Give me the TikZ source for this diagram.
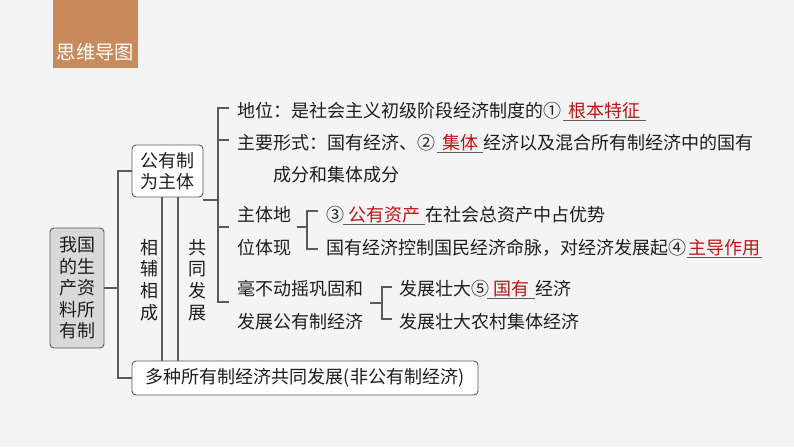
\documentclass[tikz,border=0pt]{standalone}
\usepackage{fontspec}
\newfontfamily\cjk{Noto Sans CJK SC}
\usetikzlibrary{calc}
\definecolor{bg}{RGB}{244,244,244}
\definecolor{hdr}{RGB}{201,139,92}
\definecolor{ln}{RGB}{90,90,90}
\definecolor{txt}{RGB}{30,30,30}
\definecolor{redc}{RGB}{192,20,20}
\definecolor{rootfill}{RGB}{217,217,217}
\begin{document}
\begin{tikzpicture}[x=1pt,y=-1pt,
  t/.style={anchor=west, inner sep=0pt, text height=15.8pt, text depth=2.2pt,
    font=\cjk\fontsize{18}{21.5}\selectfont, text=txt},
  blank/.style={t, text=redc, minimum width=#1},
  ul/.style={draw=ln, line width=0.9pt},
  box/.style={draw=ln, rounded corners=4pt, line width=0.9pt, fill=white,
    font=\cjk\fontsize{18}{21.5}\selectfont, text=txt, align=center, inner sep=0pt},
  vtext/.style={font=\cjk\fontsize{18}{21.7}\selectfont, text=txt, align=center, inner sep=0pt},
  conn/.style={draw=ln, line width=1.1pt}]
\useasboundingbox (0,0) rectangle (794,447);
\fill[bg] (0,0) rectangle (794,447);

% header
\fill[hdr] (53,0) rectangle (138,68);
\node[font=\cjk\fontsize{19.3}{20}\selectfont, text=white, inner sep=0pt] (hd) at (95.5,52) {思维导图};

% main boxes
\node[box, fill=rootfill, minimum width=54pt, minimum height=120pt] (root) at (77,288) {我国\\的生\\产资\\料所\\有制};
\node[box, minimum width=71pt, minimum height=52pt] (gy) at (167.5,171) {公有制\\为主体};
\node[box, minimum width=346pt, minimum height=34pt] (multi) at (305,378) {多种所有制经济共同发展(非公有制经济)};

\node[vtext] (xf) at (149,280) {相\\辅\\相\\成};
\node[vtext] (gt) at (197,280) {共\\同\\发\\展};

% trunk
\coordinate (v1) at (118,0);
\draw[conn] (root.east) -- (root.east -| v1);
\draw[conn] (gy.west) -- (gy.west -| v1) -- (multi.west -| v1) -- (multi.west);
\coordinate (c1) at (162,0);
\coordinate (c2) at (178,0);
\draw[conn] (gy.south -| c1) -- (multi.north -| c1);
\draw[conn] (gy.south -| c2) -- (multi.north -| c2);

% bracket 1
\coordinate (j1) at (218,200);
\draw[conn] (gy.south east |- j1) -- (j1);
\draw[conn] (229,108) -- (218,108) -- (218,302) -- (229,302);
\draw[conn] (218,140) -- (229,140);
\draw[conn] (218,227) -- (229,227);

% line 1
\node[t] (l1) at (237,111) {地位：是社会主义初级阶段经济制度的①};
\node[blank=83pt] (b1) at (563,111) {根本特征};
\draw[ul] (b1.south west) -- (b1.south east);

% line 2
\node[t] (l2) at (237,143) {主要形式：国有经济、②};
\node[blank=46pt] (b2) at (437,143) {集体};
\draw[ul] (b2.south west) -- (b2.south east);
\node[t] (l2b) at (b2.east) {经济以及混合所有制经济中的国有};
\node[t] (l3) at (273,175) {成分和集体成分};

% 主体地位体现
\node[t] (z1) at (237,215) {主体地};
\node[t] (z2) at (237,248) {位体现};
\draw[conn] (297,227) -- (307,227);
\draw[conn] (318,211) -- (307,211) -- (307,249) -- (318,249);
\node[t] (s3) at (326,215) {③};
\node[blank=82pt] (b3) at (343,215) {公有资产};
\draw[ul] (b3.south west) -- (b3.south east);
\node[t] (s3b) at (b3.east) {在社会总资产中占优势};
\node[t] (s4) at (326,248) {国有经济控制国民经济命脉，对经济发展起④};
\node[blank=75pt] (b4) at (687,248) {主导作用};
\draw[ul] (b4.south west) -- (b4.south east);

% 毫不动摇
\node[t] (h1) at (237,289) {毫不动摇巩固和};
\node[t] (h2) at (237,322) {发展公有制经济};
\draw[conn] (370,303) -- (382,303);
\draw[conn] (392,287) -- (382,287) -- (382,319) -- (392,319);
\node[t] (f1) at (399,289) {发展壮大⑤};
\node[blank=48pt] (b5) at (487,289) {国有};
\draw[ul] (b5.south west) -- (b5.south east);
\node[t] (f1b) at (b5.east) {经济};
\node[t] (f2) at (399,322) {发展壮大农村集体经济};
\end{tikzpicture}
\end{document}
